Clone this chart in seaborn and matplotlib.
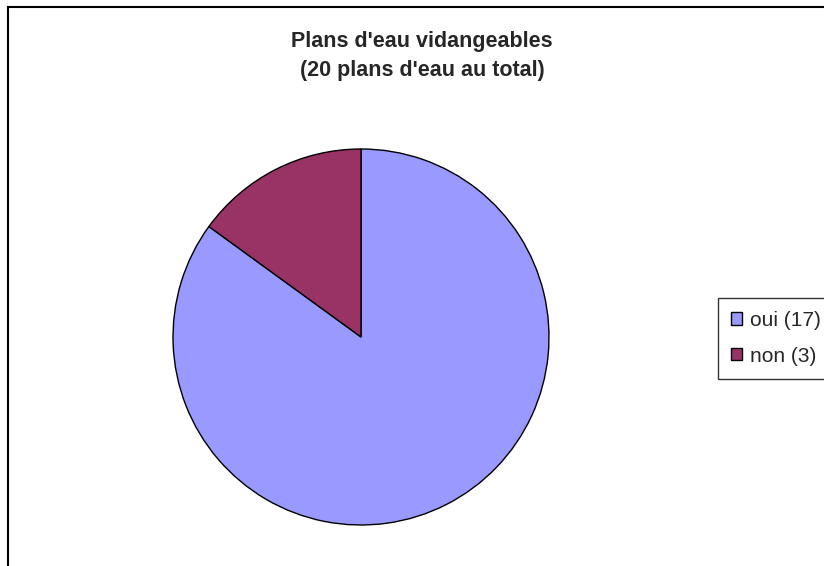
import matplotlib
matplotlib.use("Agg")
import matplotlib.pyplot as plt
import seaborn as sns
from matplotlib.patches import Rectangle

# Data
labels = ["oui (17)", "non (3)"]
counts = [17, 3]
colors = ["#9999FF", "#993366"]
title = "Plans d'eau vidangeables\n(20 plans d'eau au total)"

sns.set_style("white")
plt.rcParams["font.family"] = ["Liberation Sans", "DejaVu Sans"]

fig = plt.figure(figsize=(8.24, 5.66), dpi=100)
W, H = 824, 566

# outer chart border (cut off at right and bottom)
fig.patches.append(Rectangle((8 / W, -0.05), 1.1, 1 - 7 / H + 0.05,
                             transform=fig.transFigure, fill=False,
                             edgecolor="black", linewidth=1.5))

# pie axes: centre (361, 337), radius 188 px
cx, cy, r = 361, 337, 188
ax = fig.add_axes([(cx - r) / W, (H - cy - r) / H, 2 * r / W, 2 * r / H])
wedges, _ = ax.pie(counts, colors=colors, startangle=90, counterclock=False,
                   wedgeprops={"edgecolor": "black", "linewidth": 1.0})
ax.set_xlim(-1.0, 1.0)
ax.set_ylim(-1.0, 1.0)
ax.set_aspect("equal")
ax.axis("off")

fig.text(422 / W, 1 - 56 / H, title, ha="center", va="center",
         fontsize=15.5, fontweight="bold", linespacing=1.5)

leg = fig.legend(wedges, labels, loc="upper left",
                 bbox_to_anchor=(718 / W, 1 - 298 / H),
                 fontsize=15, frameon=True, fancybox=False,
                 edgecolor="black", handlelength=0.53, handleheight=0.53,
                 handletextpad=0.4, labelspacing=0.8, borderpad=0.62,
                 borderaxespad=0)
leg.get_frame().set_linewidth(1.0)

plt.savefig("out.png", dpi=100)
